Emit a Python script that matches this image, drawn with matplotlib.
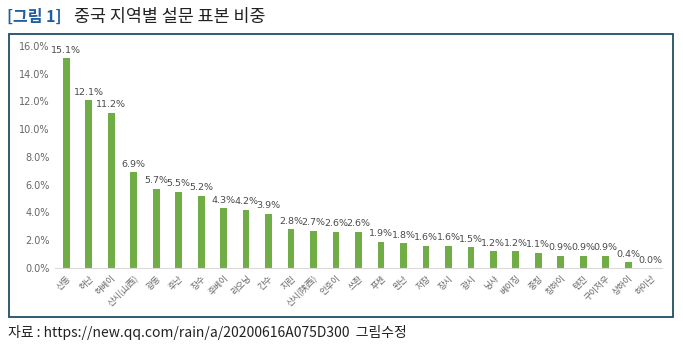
import matplotlib
matplotlib.use("Agg")
import matplotlib.pyplot as plt
from matplotlib.patches import Rectangle

plt.rcParams['font.family'] = ['Noto Sans CJK KR', 'DejaVu Sans']

# 지역별 설문 표본 비중 (%)
regions = ['산동', '허난', '허베이', '산시(山西)', '광동', '후난', '장수', '후베이', '랴오닝',
           '간수', '지린', '산시(陕西)', '안후이', '쓰촨', '푸젠', '윈난', '저장', '장시',
           '광시', '닝샤', '베이징', '충칭', '칭하이', '톈진', '구이저우', '상하이', '하이난']
shares = [15.1, 12.1, 11.2, 6.9, 5.7, 5.5, 5.2, 4.3, 4.2, 3.9, 2.8, 2.7, 2.6, 2.6,
          1.9, 1.8, 1.6, 1.6, 1.5, 1.2, 1.2, 1.1, 0.9, 0.9, 0.9, 0.4, 0.0]
yticks = [0, 2, 4, 6, 8, 10, 12, 14, 16]

W, H = 683, 348
fig = plt.figure(figsize=(W / 100, H / 100), dpi=100)

# 제목
fig.text(7 / W, 1 - 17 / H, '[그림 1]', color='#1f5f9f', fontsize=11.5, fontweight='bold',
         va='center', ha='left')
fig.text(74 / W, 1 - 17 / H, '중국 지역별 설문 표본 비중', color='#222222', fontsize=12.5,
         va='center', ha='left')

# 테두리 박스
fig.patches.append(Rectangle((9 / W, 1 - 317 / H), (673 - 9) / W, (317 - 34) / H,
                             transform=fig.transFigure, fill=False,
                             edgecolor='#1f4f62', linewidth=1.3))

ax = fig.add_axes([55 / W, 1 - 268 / H, (662 - 55) / W, (268 - 46) / H])
x = range(len(regions))
bars = ax.bar(x, shares, width=0.3, color='#70ad47')

for i, v in enumerate(shares):
    ax.text(i, v + 0.25, f'{v:.1f}%', ha='center', va='bottom', fontsize=6.8,
            color='#4a4a4a', family=['DejaVu Sans'])

ax.set_xlim(-0.5, len(regions) - 0.5)
ax.set_ylim(0, 16)
ax.set_yticks(yticks)
ax.set_yticklabels([f'{t:.1f}%' for t in yticks], fontsize=7, color='#666666',
                   family=['DejaVu Sans'])
ax.set_xticks(list(x))
ax.set_xticklabels(regions, rotation=45, ha='right', rotation_mode='anchor',
                   fontsize=6.3, color='#666666')
ax.tick_params(axis='both', length=0, pad=4)
for s in ['top', 'right', 'left']:
    ax.spines[s].set_visible(False)
ax.spines['bottom'].set_color('#d9d9d9')

# 출처
fig.text(8 / W, 1 - 333 / H, '자료 : https://new.qq.com/rain/a/20200616A075D300  그림수정',
         fontsize=10, color='#222222', va='center', ha='left')

fig.savefig('out.png', dpi=100)
